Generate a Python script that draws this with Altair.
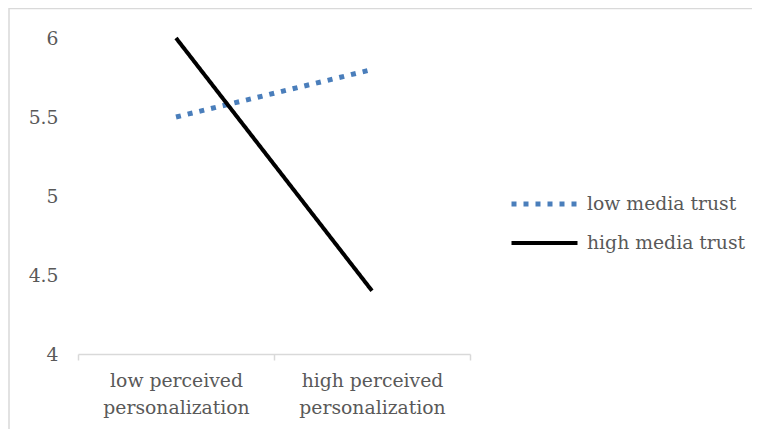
import altair as alt
import pandas as pd

categories = ["low perceived personalization", "high perceived personalization"]
series = ["low media trust", "high media trust"]
low_trust = [5.5, 5.8]
high_trust = [6.0, 4.4]
y_ticks = [4, 4.5, 5, 5.5, 6]

rows = []
for s, vals in zip(series, [low_trust, high_trust]):
    for c, v in zip(categories, vals):
        rows.append({"category": c, "series": s, "value": v})
df = pd.DataFrame(rows)

FONT = "DejaVu Serif"
FS = 18.8
TXT = "#595959"
W, H = 392, 316

frame = alt.Chart(pd.DataFrame({"a": [0]})).mark_rect(
    fill=None, stroke="#d9d9d9", strokeWidth=1.5, clip=False
).encode(
    x=alt.value(-69), x2=alt.value(700), y=alt.value(-29.5), y2=alt.value(420)
)

lines = alt.Chart(df).mark_line(strokeCap="butt").encode(
    x=alt.X("category:N", sort=categories, title=None,
            scale=alt.Scale(paddingInner=0, paddingOuter=0),
            axis=alt.Axis(labelAngle=0, tickBand="extent", ticks=True, tickSize=6,
                          tickColor="#d9d9d9", domainColor="#d9d9d9", domainWidth=1.5,
                          tickWidth=1.5, grid=False, labelPadding=11,
                          labelLineHeight=27,
                          labelExpr="split(replace(datum.label, ' personalization', '|personalization'), '|')")),
    y=alt.Y("value:Q", title=None,
            scale=alt.Scale(domain=[4, 6], nice=False, zero=False),
            axis=alt.Axis(values=y_ticks, format=".1~f", domain=False, ticks=False,
                          grid=False, labelPadding=20)),
    color=alt.Color("series:N", sort=series, title=None,
                    scale=alt.Scale(domain=series, range=["#4a7ebb", "#000000"]),
                    legend=alt.Legend(orient="none", legendX=431, legendY=156,
                                      symbolType="stroke", symbolSize=4356,
                                      symbolStrokeWidth=4.5, labelOffset=7,
                                      clipHeight=20, rowPadding=19)),
    strokeDash=alt.StrokeDash("series:N", sort=series, title=None,
                              scale=alt.Scale(domain=series, range=[[5, 7], [1, 0]])),
    strokeWidth=alt.StrokeWidth("series:N", legend=None,
                                scale=alt.Scale(domain=series, range=[5, 4])),
)

chart = alt.layer(frame, lines).properties(
    width=W, height=H,
    autosize=alt.AutoSizeParams(type="none"),
    padding={"left": 70, "top": 30, "right": 282, "bottom": 75},
).configure_view(stroke=None).configure_axis(
    labelFont=FONT, labelFontSize=FS, labelColor=TXT
).configure_legend(
    labelFont=FONT, labelFontSize=FS, labelColor=TXT
)

chart.save("out.html", embed_options={"renderer": "svg", "actions": False})
